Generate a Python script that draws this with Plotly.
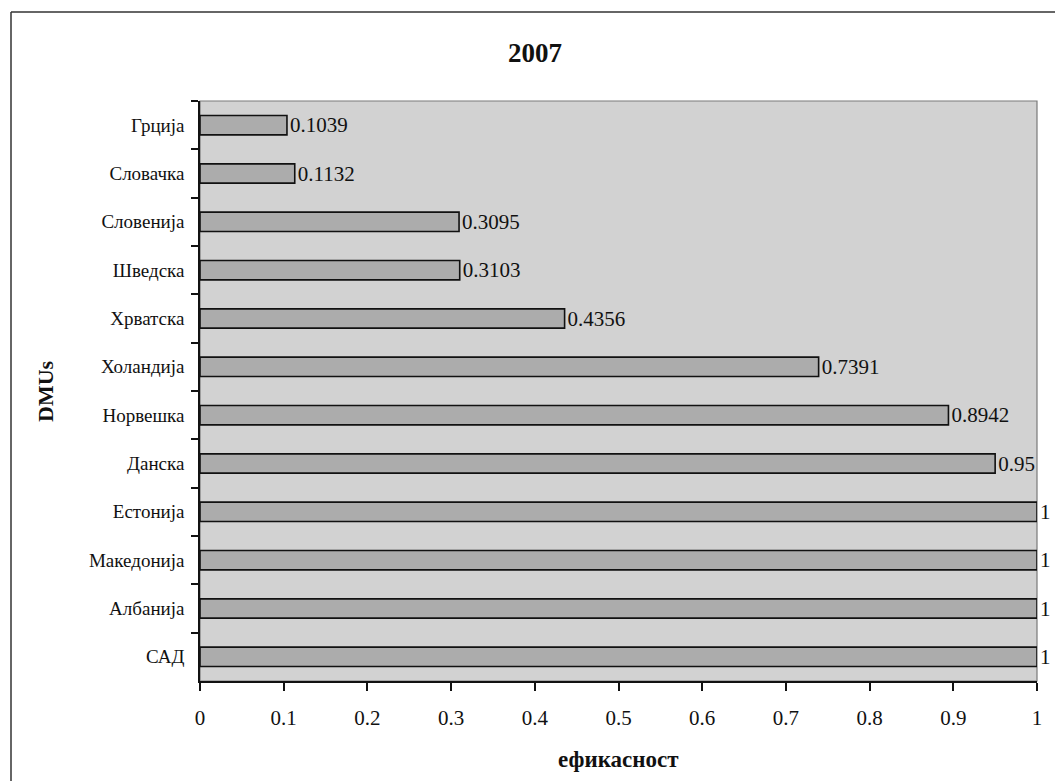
import plotly.graph_objects as go

# Efficiency scores per DMU (listed top to bottom as shown)
countries = ["Грција", "Словачка", "Словенија", "Шведска", "Хрватска", "Холандија",
             "Норвешка", "Данска", "Естонија", "Македонија", "Албанија", "САД"]
efficiency = [0.1039, 0.1132, 0.3095, 0.3103, 0.4356, 0.7391,
              0.8942, 0.95, 1, 1, 1, 1]
x_ticks = [0, 0.1, 0.2, 0.3, 0.4, 0.5, 0.6, 0.7, 0.8, 0.9, 1]
x_tick_labels = ["0", "0.1", "0.2", "0.3", "0.4", "0.5", "0.6", "0.7", "0.8", "0.9", "1"]

SERIF = "Liberation Serif, Times New Roman, serif"
W, H = 1055, 781
L, R, T, B = 200, 18, 101, 100
plot_w = W - L - R
plot_h = H - T - B


def px_to_paper_x(px):
    return (px - L) / plot_w


def px_to_paper_y(py):
    return (H - B - py) / plot_h


fig = go.Figure()
fig.add_trace(go.Bar(
    y=countries,
    x=efficiency,
    orientation="h",
    marker=dict(color="#acacac", line=dict(color="#111111", width=1.6)),
    text=[f"{v:g}" for v in efficiency],
    textposition="outside",
    constraintext="none",
    textfont=dict(family=SERIF, size=21, color="#111111"),
    cliponaxis=False,
    width=0.4,
    hoverinfo="skip",
))

shapes = [
    # gray frame on the top and right of the plot area
    dict(type="rect", xref="paper", yref="paper", x0=0, x1=1, y0=0, y1=1,
         line=dict(color="#7a7a7a", width=1.2), layer="below"),
    # outer chart border (top and left edges)
    dict(type="line", xref="paper", yref="paper",
         x0=px_to_paper_x(11), x1=px_to_paper_x(W + 5),
         y0=px_to_paper_y(12), y1=px_to_paper_y(12),
         line=dict(color="#333333", width=1.5)),
    dict(type="line", xref="paper", yref="paper",
         x0=px_to_paper_x(11), x1=px_to_paper_x(11),
         y0=px_to_paper_y(12), y1=px_to_paper_y(H + 5),
         line=dict(color="#333333", width=1.5)),
]

fig.update_layout(
    width=W, height=H,
    margin=dict(l=L, r=R, t=T, b=B),
    paper_bgcolor="white",
    plot_bgcolor="#d2d2d2",
    showlegend=False,
    bargap=0.6,
    font=dict(family=SERIF, size=20, color="#111111"),
    title=dict(text="<b>2007</b>", x=535 / W, y=1 - 53 / H,
               xref="container", yref="container",
               xanchor="center", yanchor="middle",
               font=dict(family=SERIF, size=27, color="#111111")),
    shapes=shapes,
    annotations=[
        dict(text="<b>DMUs</b>", xref="paper", yref="paper",
             x=px_to_paper_x(45), y=0.5, textangle=-90,
             showarrow=False, xanchor="center", yanchor="middle",
             font=dict(family=SERIF, size=22, color="#111111")),
        dict(text="<b>ефикасност</b>", xref="paper", yref="paper",
             x=0.5, y=px_to_paper_y(760),
             showarrow=False, xanchor="center", yanchor="middle",
             font=dict(family=SERIF, size=23, color="#111111")),
    ],
)

fig.update_xaxes(
    range=[0, 1],
    tickvals=x_ticks, ticktext=x_tick_labels,
    showgrid=False, zeroline=False,
    showline=True, linecolor="#111111", linewidth=1.5,
    ticks="outside", ticklen=8, tickwidth=1.5, tickcolor="#111111",
    ticklabelstandoff=9,
    tickfont=dict(family=SERIF, size=21, color="#111111"),
)
fig.update_yaxes(
    autorange="reversed",
    type="category",
    showgrid=False, zeroline=False,
    showline=True, linecolor="#111111", linewidth=1.5,
    ticks="outside", ticklen=7, tickwidth=1.5, tickcolor="#111111",
    tickson="boundaries",
    ticklabelstandoff=10,
    tickfont=dict(family=SERIF, size=19, color="#111111"),
)

fig.write_html("out.html")
